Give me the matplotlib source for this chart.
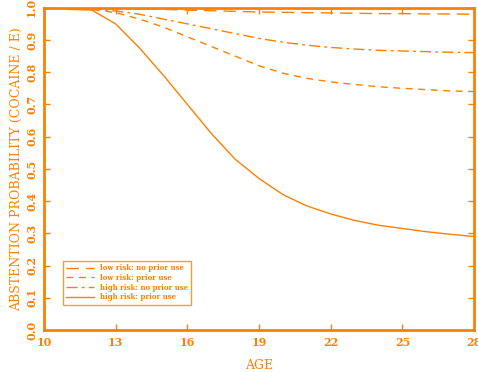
import numpy as np
import matplotlib
matplotlib.use("Agg")
import matplotlib.pyplot as plt

ORANGE = "#ff8000"

age = [11, 12, 13, 14, 15, 16, 17, 18, 19, 20, 21, 22, 23, 24, 25, 26, 27, 28]

low_no_prior = [0.999, 0.998, 0.997, 0.996, 0.995, 0.993, 0.991, 0.989, 0.987,
                0.986, 0.985, 0.984, 0.983, 0.982, 0.982, 0.981, 0.981, 0.980]
low_prior = [0.998, 0.995, 0.985, 0.965, 0.940, 0.910, 0.880, 0.850, 0.820,
             0.797, 0.781, 0.770, 0.762, 0.755, 0.750, 0.746, 0.742, 0.740]
high_no_prior = [0.998, 0.997, 0.990, 0.980, 0.965, 0.950, 0.935, 0.920, 0.905,
                 0.893, 0.884, 0.877, 0.872, 0.868, 0.866, 0.864, 0.862, 0.861]
high_prior = [0.995, 0.993, 0.950, 0.875, 0.790, 0.700, 0.610, 0.530, 0.470,
              0.420, 0.385, 0.360, 0.340, 0.325, 0.315, 0.305, 0.297, 0.290]

labels = ["low risk: no prior use", "low risk: prior use",
          "high risk: no prior use", "high risk: prior use"]

plt.rcParams["font.family"] = ["DejaVu Serif"]

fig = plt.figure(figsize=(4.78, 3.72), dpi=100)
ax = fig.add_axes([0.092, 0.113, 0.9, 0.866])

ax.plot(age, low_no_prior, color=ORANGE, lw=1.0, dashes=(9, 5), label=labels[0])
ax.plot(age, low_prior, color=ORANGE, lw=1.0, dashes=(5, 4), label=labels[1])
ax.plot(age, high_no_prior, color=ORANGE, lw=1.0, dashes=(8, 3, 2, 3), label=labels[2])
ax.plot(age, high_prior, color=ORANGE, lw=1.0, label=labels[3])

ax.set_xlim(10, 28)
ax.set_ylim(0, 1)
ax.set_xticks([10, 13, 16, 19, 22, 25, 28])
ax.set_yticks(np.arange(0, 1.01, 0.1))
ax.set_yticklabels([f"{v:.1f}" for v in np.arange(0, 1.01, 0.1)],
                   rotation=90, va="center")

for s in ax.spines.values():
    s.set_color(ORANGE)
    s.set_linewidth(2)

ax.tick_params(direction="in", length=4, width=1, colors=ORANGE,
               top=True, right=True, labelsize=8, pad=5)
for lab in ax.get_xticklabels() + ax.get_yticklabels():
    lab.set_fontweight("bold")

ax.set_xlabel("AGE", color=ORANGE, fontsize=9, labelpad=8)
ax.set_ylabel("ABSTENTION PROBABILITY (COCAINE / E)", color=ORANGE, fontsize=9, labelpad=2)

leg = ax.legend(loc="lower left", bbox_to_anchor=(0.044, 0.078), borderaxespad=0,
                prop={"size": 5, "weight": "bold"}, fancybox=False,
                handlelength=4, borderpad=0.5, labelspacing=0.25)
leg.get_frame().set_edgecolor(ORANGE)
leg.get_frame().set_linewidth(1)
for t in leg.get_texts():
    t.set_color(ORANGE)

fig.savefig("out.png", dpi=100)
